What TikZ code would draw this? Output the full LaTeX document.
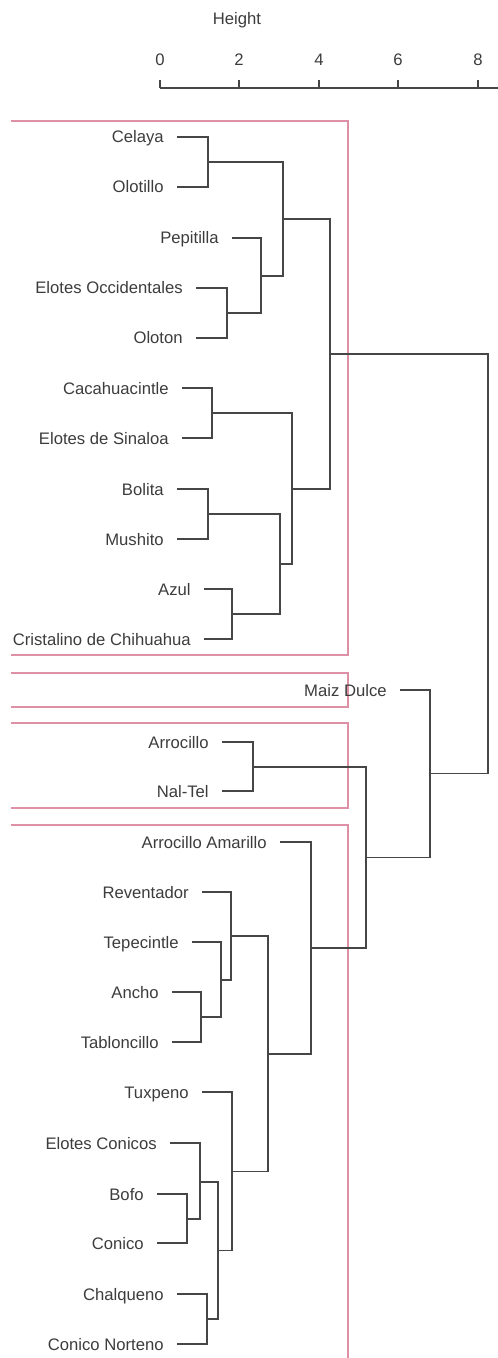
\documentclass[tikz,border=0pt]{standalone}
\usepackage{fontspec}
\setmainfont{Liberation Sans}
\definecolor{txt}{RGB}{60,60,60}
\definecolor{ln}{RGB}{70,70,70}
\definecolor{pinkbox}{RGB}{222,145,165}
\begin{document}
\begin{tikzpicture}[x=0.75pt,y=-0.75pt,
  leaf/.style={anchor=east,inner xsep=10pt,inner ysep=0pt,outer sep=0pt,text height=9pt,text depth=0pt,text=txt,font=\fontsize{12.5pt}{15pt}\selectfont},
  lab/.style={inner sep=0pt,text=txt,font=\fontsize{12.5pt}{15pt}\selectfont},
  edge/.style={draw=ln,line width=0.9pt},
  cluster/.style={draw=pinkbox,line width=1pt}]
\useasboundingbox (0,0) rectangle (498,1358);

% axis
\node[lab] (htitle) at (237,20) {Height};
\coordinate (ax0) at (160,88);
\coordinate (axend) at (498,88);
\draw[edge] (ax0) -- (axend);
\foreach \v/\xx in {0/160,2/239,4/319,6/398,8/478}{
  \coordinate (t\v) at (\xx,88);
  \draw[edge] (t\v) -- ++(0,-8);
  \node[lab] (tl\v) at (\xx,60) {\v};
}

% cluster boxes
\draw[cluster] (11,121) -- (348,121) -- (348,655) -- (11,655);
\draw[cluster] (11,673) -- (348,673) -- (348,707) -- (11,707);
\draw[cluster] (11,723) -- (348,723) -- (348,808) -- (11,808);
\draw[cluster] (11,825) -- (348,825) -- (348,1358);

% leaves
\node[leaf] (celaya) at (177,137) {Celaya};
\node[leaf] (olotillo) at (177,187) {Olotillo};
\node[leaf] (pepitilla) at (232,238) {Pepitilla};
\node[leaf] (eocc) at (196,288) {Elotes Occidentales};
\node[leaf] (oloton) at (196,338) {Oloton};
\node[leaf] (cacah) at (182,388) {Cacahuacintle};
\node[leaf] (esin) at (182,438) {Elotes de Sinaloa};
\node[leaf] (bolita) at (177,489) {Bolita};
\node[leaf] (mushito) at (177,539) {Mushito};
\node[leaf] (azul) at (204,589) {Azul};
\node[leaf] (crist) at (204,639) {Cristalino de Chihuahua};
\node[leaf] (maiz) at (400,690) {Maiz Dulce};
\node[leaf] (arroc) at (222,742) {Arrocillo};
\node[leaf] (naltel) at (222,791) {Nal-Tel};
\node[leaf] (arram) at (280,842) {Arrocillo Amarillo};
\node[leaf] (revent) at (202,892) {Reventador};
\node[leaf] (tepec) at (192,942) {Tepecintle};
\node[leaf] (ancho) at (172,992) {Ancho};
\node[leaf] (tablon) at (172,1042) {Tabloncillo};
\node[leaf] (tuxp) at (202,1092) {Tuxpeno};
\node[leaf] (econ) at (170,1143) {Elotes Conicos};
\node[leaf] (bofo) at (157,1194) {Bofo};
\node[leaf] (conico) at (157,1243) {Conico};
\node[leaf] (chalq) at (177,1294) {Chalqueno};
\node[leaf] (cnort) at (177,1344) {Conico Norteno};

% merge points
\coordinate (m1) at (208,162);
\coordinate (m2) at (227,313);
\coordinate (m3) at (261,276);
\coordinate (m4) at (283,219);
\coordinate (m5) at (212,413);
\coordinate (m6) at (208,514);
\coordinate (m7) at (232,614);
\coordinate (m8) at (280,564);
\coordinate (m9) at (292,489);
\coordinate (m10) at (330,354);
\coordinate (root) at (488,563.5);
\coordinate (mmd) at (430,773.5);
\coordinate (man) at (253,767);
\coordinate (marr) at (366,857.5);
\coordinate (maa) at (311,948);
\coordinate (mrest) at (268,1054);
\coordinate (mrev) at (231,936);
\coordinate (mtep) at (221,980);
\coordinate (manc) at (201,1017);
\coordinate (mtux) at (232,1171.5);
\coordinate (mch) at (218,1250.5);
\coordinate (mec) at (200,1182);
\coordinate (mbc) at (187,1219);
\coordinate (mcn) at (207,1319);

% edges
\path[edge]
  (celaya.east) -| (m1) (olotillo.east) -| (m1)
  (eocc.east) -| (m2) (oloton.east) -| (m2)
  (pepitilla.east) -| (m3) (m2) -| (m3)
  (m1) -| (m4) (m3) -| (m4)
  (cacah.east) -| (m5) (esin.east) -| (m5)
  (bolita.east) -| (m6) (mushito.east) -| (m6)
  (azul.east) -| (m7) (crist.east) -| (m7)
  (m6) -| (m8) (m7) -| (m8)
  (m5) -| (m9) (m8) -| (m9)
  (m4) -| (m10) (m9) -| (m10)
  (m10) -| (root) (mmd) -| (root)
  (maiz.east) -| (mmd) (marr) -| (mmd)
  (arroc.east) -| (man) (naltel.east) -| (man)
  (man) -| (marr) (maa) -| (marr)
  (arram.east) -| (maa) (mrest) -| (maa)
  (revent.east) -| (mrev) (mtep) -| (mrev)
  (tepec.east) -| (mtep) (manc) -| (mtep)
  (ancho.east) -| (manc) (tablon.east) -| (manc)
  (mrev) -| (mrest) (mtux) -| (mrest)
  (tuxp.east) -| (mtux) (mch) -| (mtux)
  (mec) -| (mch) (mcn) -| (mch)
  (econ.east) -| (mec) (mbc) -| (mec)
  (bofo.east) -| (mbc) (conico.east) -| (mbc)
  (chalq.east) -| (mcn) (cnort.east) -| (mcn);
\end{tikzpicture}
\end{document}
